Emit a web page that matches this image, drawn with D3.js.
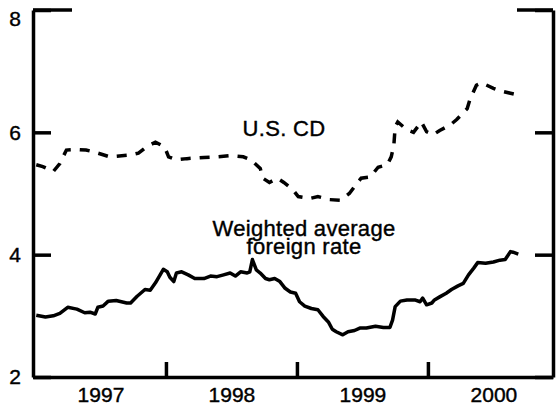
<!DOCTYPE html>
<html>
<head>
<meta charset="utf-8">
<script src="https://cdn.jsdelivr.net/npm/d3@7"></script>
<style>
  body { margin: 0; background: #fff; }
  svg text { font-family: "Liberation Sans", Arial, Helvetica, sans-serif; fill: #000; stroke: #000; stroke-width: 0.4; }
  .axis path, .axis line { stroke: #000; stroke-width: 3.5; }
</style>
</head>
<body>
<div id="chart"></div>
<script>
// dates as decimal years, rates in percent
var foreignDates = [1997.01,1997.08,1997.14,1997.19,1997.25,1997.32,1997.38,1997.42,1997.46,1997.48,
  1997.52,1997.56,1997.62,1997.70,1997.73,1997.78,1997.84,1997.88,1997.92,1997.98,
  1998.01,1998.03,1998.06,1998.08,1998.12,1998.17,1998.22,1998.29,1998.34,1998.39,
  1998.44,1998.49,1998.53,1998.57,1998.62,1998.64,1998.66,1998.69,1998.72,1998.76,
  1998.79,1998.83,1998.87,1998.91,1998.95,1998.99,1999.02,1999.06,1999.11,1999.16,
  1999.20,1999.24,1999.27,1999.30,1999.35,1999.39,1999.44,1999.48,1999.53,1999.60,
  1999.66,1999.71,1999.73,1999.75,1999.79,1999.84,1999.90,1999.94,1999.96,1999.99,
  2000.03,2000.05,2000.09,2000.14,2000.18,2000.23,2000.27,2000.31,2000.35,2000.38,
  2000.44,2000.50,2000.55,2000.59,2000.63,2000.65,2000.69];
var foreignRates = [3.01,2.98,3.00,3.04,3.14,3.11,3.05,3.06,3.03,3.14,
  3.16,3.24,3.25,3.21,3.21,3.32,3.43,3.42,3.54,3.76,
  3.72,3.63,3.56,3.70,3.72,3.67,3.61,3.61,3.65,3.64,
  3.67,3.70,3.65,3.72,3.70,3.72,3.92,3.75,3.70,3.61,
  3.59,3.61,3.56,3.45,3.39,3.37,3.23,3.16,3.12,3.10,
  2.99,2.90,2.78,2.74,2.69,2.74,2.76,2.80,2.80,2.83,
  2.81,2.81,2.93,3.15,3.24,3.26,3.26,3.23,3.29,3.18,
  3.21,3.26,3.31,3.37,3.43,3.49,3.53,3.67,3.78,3.87,
  3.86,3.88,3.91,3.92,4.05,4.04,4.01];

var cdDates = [1997.01,1997.06,1997.14,1997.19,1997.24,1997.32,1997.39,1997.45,1997.57,1997.62,
  1997.73,1997.79,1997.85,1997.92,1997.99,1998.02,1998.08,1998.16,1998.29,1998.39,
  1998.49,1998.59,1998.65,1998.72,1998.74,1998.79,1998.85,1998.90,1998.97,1999.01,
  1999.10,1999.16,1999.25,1999.33,1999.40,1999.46,1999.49,1999.56,1999.62,1999.69,
  1999.72,1999.74,1999.75,1999.77,1999.84,1999.89,1999.95,1999.99,2000.04,2000.09,
  2000.17,2000.22,2000.30,2000.32,2000.37,2000.41,2000.50,2000.55,2000.63,2000.69];
var cdRates = [5.47,5.44,5.36,5.49,5.71,5.72,5.71,5.68,5.60,5.61,
  5.63,5.66,5.76,5.84,5.76,5.60,5.55,5.57,5.59,5.60,
  5.62,5.60,5.55,5.41,5.25,5.18,5.25,5.18,5.06,4.95,
  4.92,4.95,4.90,4.89,5.00,5.17,5.25,5.27,5.43,5.47,
  5.60,5.79,6.09,6.17,6.04,6.00,6.17,6.01,5.96,6.03,
  6.12,6.21,6.39,6.53,6.77,6.81,6.72,6.68,6.64,6.61];

var yTicks = [2, 4, 6, 8];
var yearTicks = [1998, 1999, 2000];
var yearLabels = [1997, 1998, 1999, 2000];

var width = 556, height = 409;
var margin = {top: 10, right: 3, bottom: 32, left: 33};

var svg = d3.select("#chart")
  .append("svg")
  .attr("width", width)
  .attr("height", height);

var x = d3.scaleLinear()
    .domain([1996.985, 2000.955])
    .range([margin.left, width - margin.right]);

var y = d3.scaleLinear()
    .domain([2, 8])
    .range([height - margin.bottom, margin.top]);

var foreign = foreignDates.map(function(d, i) { return {t: d, v: foreignRates[i]}; });
var cd = cdDates.map(function(d, i) { return {t: d, v: cdRates[i]}; });

// left axis, ticks pointing in
svg.append("g")
    .attr("class", "axis")
    .attr("transform", "translate(" + margin.left + ",0)")
    .call(d3.axisLeft(y).tickValues(yTicks).tickFormat(d3.format("d"))
      .tickSizeInner(-18).tickSizeOuter(0).tickPadding(12))
    .call(function(g) {
      g.selectAll("text").style("font-size", "21px");
      // top label sits a little lower, as in the print
      g.selectAll(".tick").filter(function(d) { return d === 8; })
        .select("text").attr("dy", "0.75em");
    });

// right axis, no labels
svg.append("g")
    .attr("class", "axis")
    .attr("transform", "translate(" + (width - margin.right) + ",0)")
    .call(d3.axisLeft(y).tickValues(yTicks).tickSize(18).tickSizeOuter(0).tickFormat(""));

// bottom axis: year boundary ticks
svg.append("g")
    .attr("class", "axis")
    .attr("transform", "translate(0," + (height - margin.bottom) + ")")
    .call(d3.axisBottom(x).tickValues(yearTicks).tickSizeInner(-15).tickSizeOuter(0).tickFormat(""));

// year labels centred in each year
svg.append("g")
    .attr("class", "axis")
    .attr("transform", "translate(0," + (height - margin.bottom) + ")")
    .call(d3.axisBottom(x).tickValues(yearLabels.map(function(d) { return d + 0.5; }))
      .tickSize(0).tickPadding(10).tickFormat(function(d) { return String(Math.floor(d)); }))
    .call(function(g) {
      g.select(".domain").remove();
      g.selectAll("text").style("font-size", "21px");
    });

// short top corners
svg.append("path")
    .attr("d", "M" + margin.left + "," + y(8) + "H" + (margin.left + 39))
    .attr("stroke", "#000").attr("stroke-width", 3.5);
svg.append("path")
    .attr("d", "M" + (width - margin.right - 36) + "," + y(8) + "H" + (width - margin.right))
    .attr("stroke", "#000").attr("stroke-width", 3.5);

var line = d3.line()
    .x(function(d) { return x(d.t); })
    .y(function(d) { return y(d.v); });

svg.append("path")
    .datum(cd)
    .attr("fill", "none")
    .attr("stroke", "#000")
    .attr("stroke-width", 3.5)
    .attr("stroke-dasharray", "10,9")
    .attr("d", line);

svg.append("path")
    .datum(foreign)
    .attr("fill", "none")
    .attr("stroke", "#000")
    .attr("stroke-width", 3.5)
    .attr("stroke-linejoin", "round")
    .attr("d", line);

svg.append("text")
    .attr("x", 284).attr("y", 136)
    .attr("text-anchor", "middle")
    .style("font-size", "22px")
    .style("letter-spacing", "0.3px")
    .text("U.S. CD");

var lab = svg.append("text")
    .attr("text-anchor", "middle")
    .style("font-size", "22px")
    .style("letter-spacing", "0.3px");
lab.append("tspan").attr("x", 304).attr("y", 236).text("Weighted average");
lab.append("tspan").attr("x", 304).attr("y", 254).text("foreign rate");
</script>
</body>
</html>
